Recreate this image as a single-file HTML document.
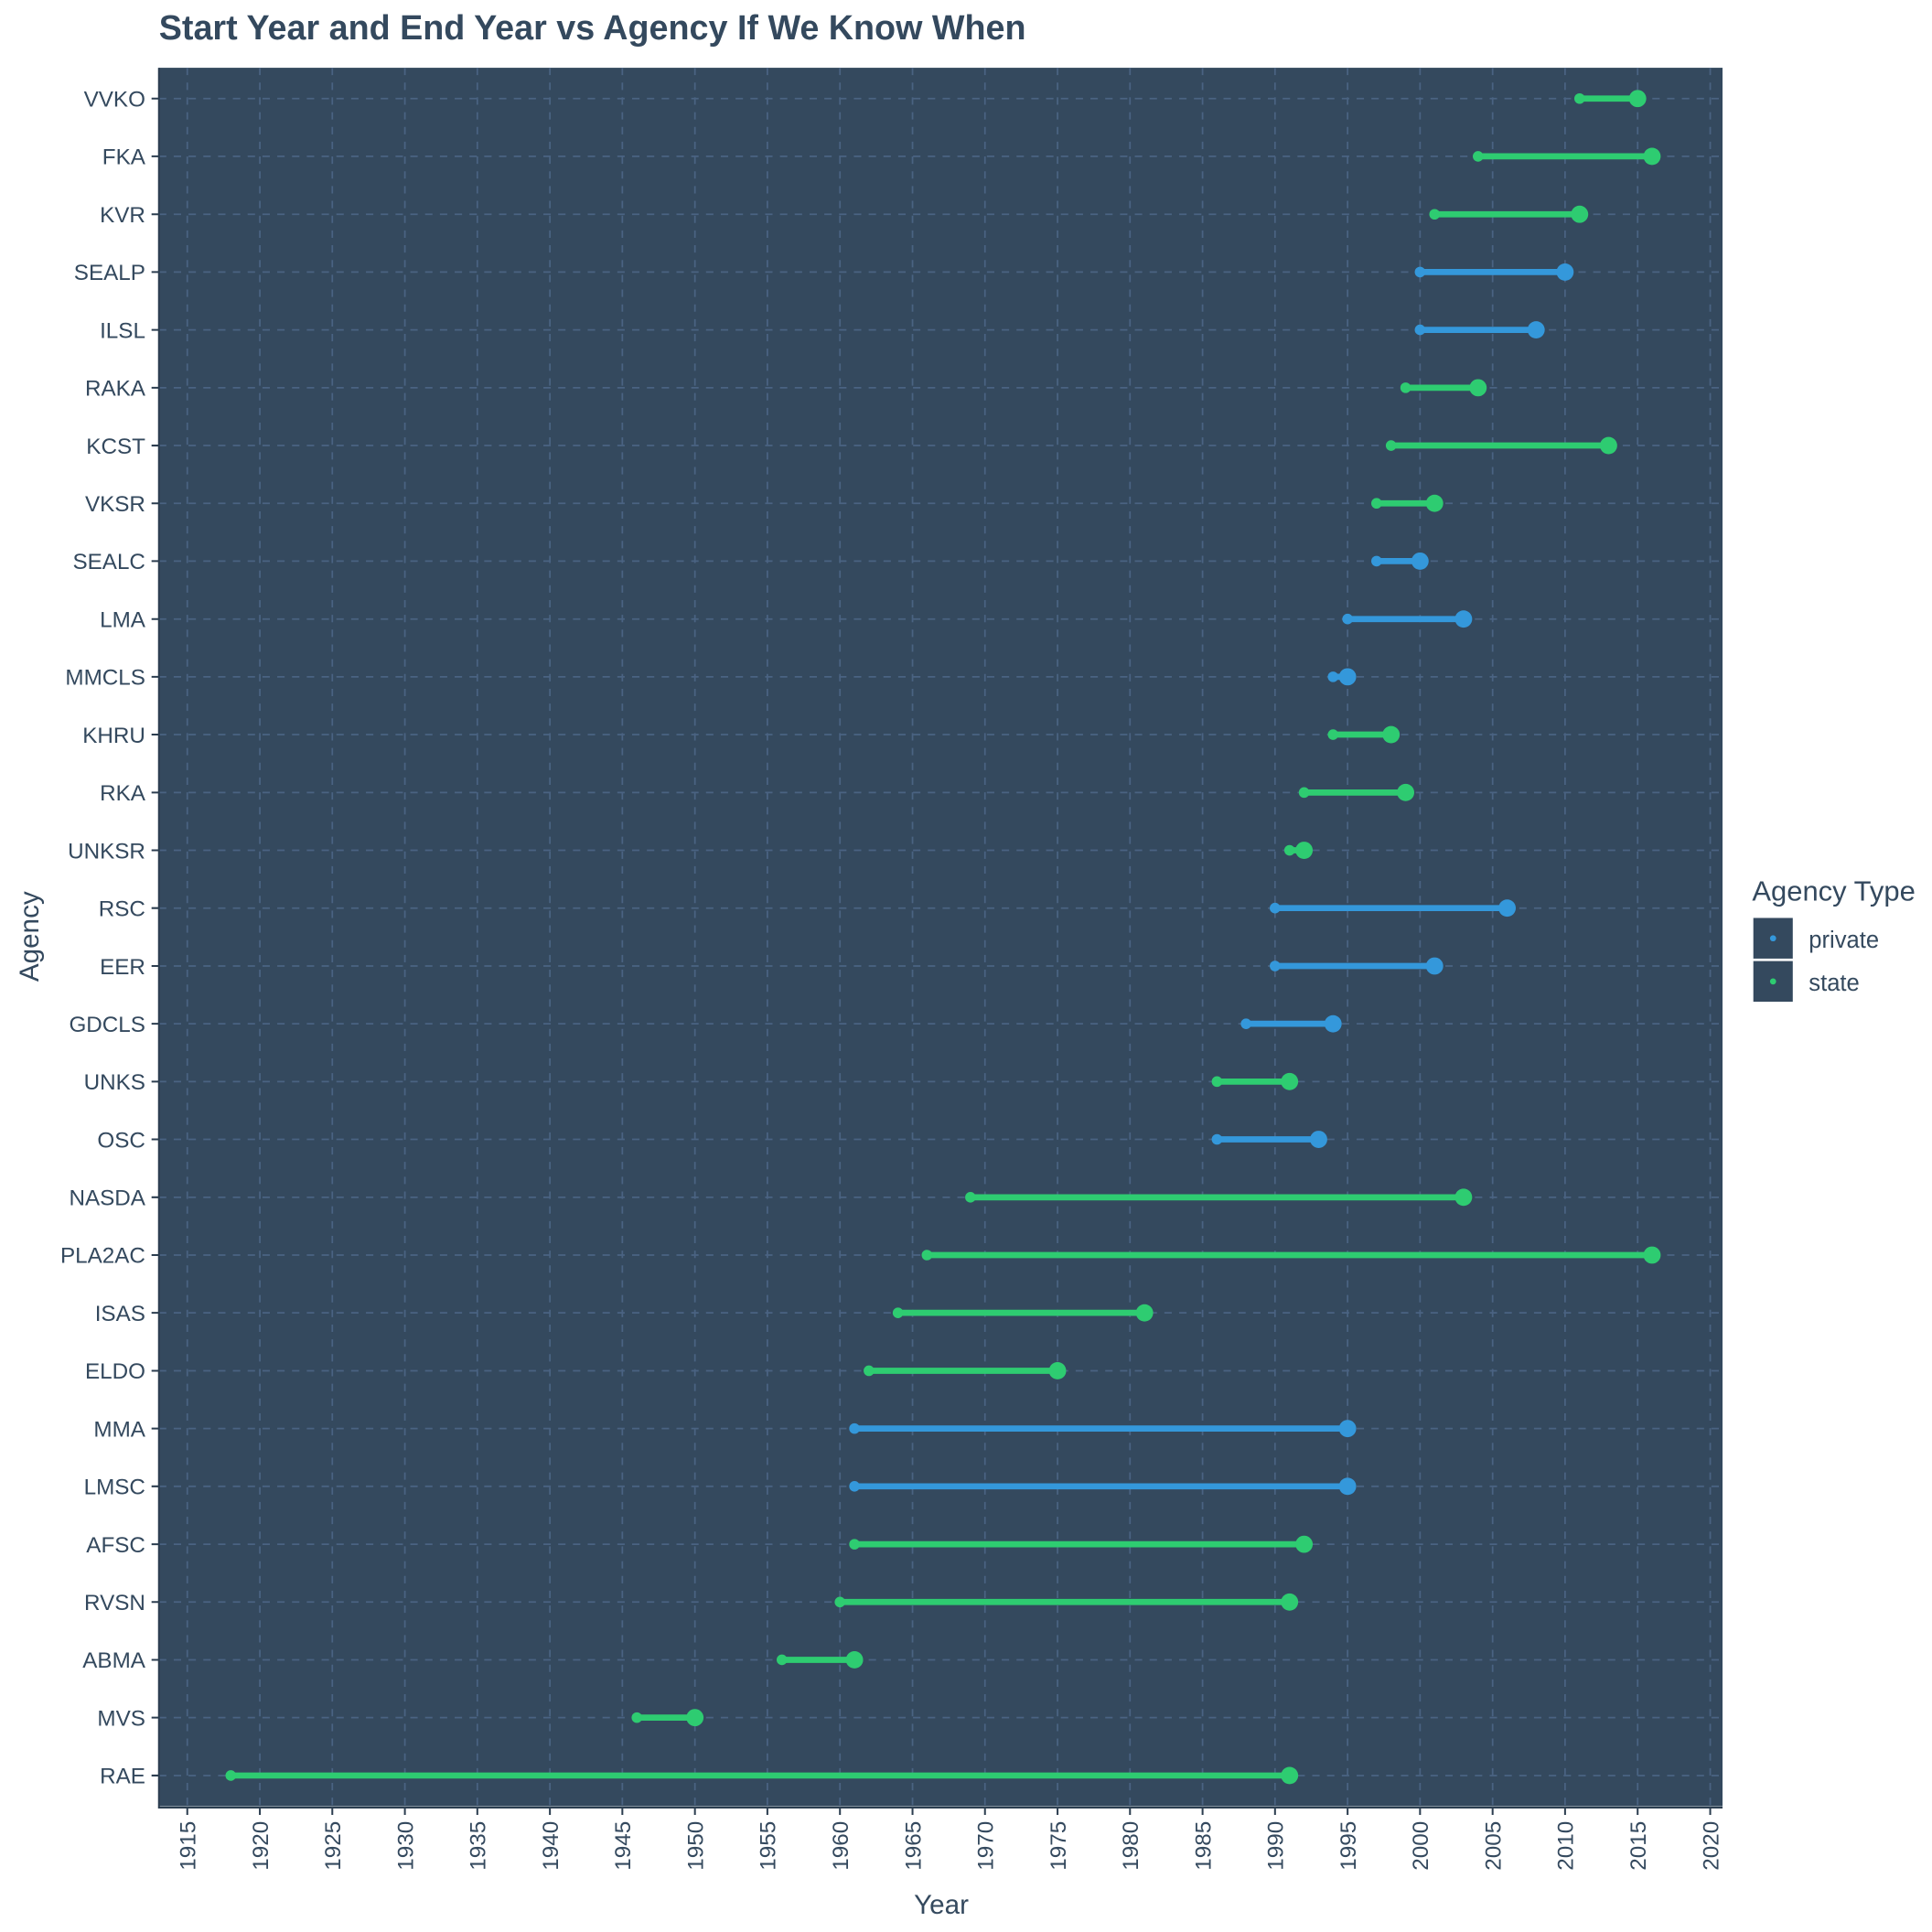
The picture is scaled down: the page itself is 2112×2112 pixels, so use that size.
<!DOCTYPE html>
<html><head><meta charset="utf-8"><style>html,body{margin:0;padding:0;background:#fff}svg{display:block}</style></head><body>
<svg width="2112" height="2112" viewBox="0 0 1568 1568" xmlns="http://www.w3.org/2000/svg" font-family="Liberation Sans, sans-serif">
<rect x="0" y="0" width="1568" height="1568" fill="#fff"/>
<text x="129" y="32" font-size="28" font-weight="bold" fill="#34495e">Start Year and End Year vs Agency If We Know When</text>
<rect x="129" y="55" width="1269" height="1411" fill="#34495e"/>
<g stroke="#4a6382" stroke-width="1.3" stroke-dasharray="6,6">
<path d="M152 55V1466M210.9 55V1466M269.7 55V1466M328.6 55V1466M387.4 55V1466M446.3 55V1466M505.1 55V1466M564 55V1466M622.8 55V1466M681.7 55V1466M740.6 55V1466M799.4 55V1466M858.3 55V1466M917.1 55V1466M976 55V1466M1034.8 55V1466M1093.7 55V1466M1152.5 55V1466M1211.4 55V1466M1270.2 55V1466M1329.1 55V1466M1388 55V1466"/>
<path d="M129 80H1398M129 126.9H1398M129 173.9H1398M129 220.8H1398M129 267.7H1398M129 314.7H1398M129 361.6H1398M129 408.5H1398M129 455.4H1398M129 502.4H1398M129 549.3H1398M129 596.2H1398M129 643.2H1398M129 690.1H1398M129 737H1398M129 784H1398M129 830.9H1398M129 877.8H1398M129 924.7H1398M129 971.7H1398M129 1018.6H1398M129 1065.5H1398M129 1112.5H1398M129 1159.4H1398M129 1206.3H1398M129 1253.3H1398M129 1300.2H1398M129 1347.1H1398M129 1394H1398M129 1441H1398"/>
</g>
<path d="M129 55V1467H1398" stroke="#2c3e50" stroke-width="1.5" fill="none"/>
<g stroke-width="5">
<g stroke="#2ecc71" fill="#2ecc71">
<line x1="1282" y1="80" x2="1329.1" y2="80"/><circle cx="1282" cy="80" r="4.3" stroke="none"/><circle cx="1329.1" cy="80" r="7" stroke="none"/>
<line x1="1199.6" y1="126.9" x2="1340.8" y2="126.9"/><circle cx="1199.6" cy="126.9" r="4.3" stroke="none"/><circle cx="1340.8" cy="126.9" r="7" stroke="none"/>
<line x1="1164.3" y1="173.9" x2="1282" y2="173.9"/><circle cx="1164.3" cy="173.9" r="4.3" stroke="none"/><circle cx="1282" cy="173.9" r="7" stroke="none"/>
<line x1="1140.8" y1="314.7" x2="1199.6" y2="314.7"/><circle cx="1140.8" cy="314.7" r="4.3" stroke="none"/><circle cx="1199.6" cy="314.7" r="7" stroke="none"/>
<line x1="1129" y1="361.6" x2="1305.5" y2="361.6"/><circle cx="1129" cy="361.6" r="4.3" stroke="none"/><circle cx="1305.5" cy="361.6" r="7" stroke="none"/>
<line x1="1117.2" y1="408.5" x2="1164.3" y2="408.5"/><circle cx="1117.2" cy="408.5" r="4.3" stroke="none"/><circle cx="1164.3" cy="408.5" r="7" stroke="none"/>
<line x1="1081.9" y1="596.2" x2="1129" y2="596.2"/><circle cx="1081.9" cy="596.2" r="4.3" stroke="none"/><circle cx="1129" cy="596.2" r="7" stroke="none"/>
<line x1="1058.4" y1="643.2" x2="1140.8" y2="643.2"/><circle cx="1058.4" cy="643.2" r="4.3" stroke="none"/><circle cx="1140.8" cy="643.2" r="7" stroke="none"/>
<line x1="1046.6" y1="690.1" x2="1058.4" y2="690.1"/><circle cx="1046.6" cy="690.1" r="4.3" stroke="none"/><circle cx="1058.4" cy="690.1" r="7" stroke="none"/>
<line x1="987.7" y1="877.8" x2="1046.6" y2="877.8"/><circle cx="987.7" cy="877.8" r="4.3" stroke="none"/><circle cx="1046.6" cy="877.8" r="7" stroke="none"/>
<line x1="787.6" y1="971.7" x2="1187.8" y2="971.7"/><circle cx="787.6" cy="971.7" r="4.3" stroke="none"/><circle cx="1187.8" cy="971.7" r="7" stroke="none"/>
<line x1="752.3" y1="1018.6" x2="1340.8" y2="1018.6"/><circle cx="752.3" cy="1018.6" r="4.3" stroke="none"/><circle cx="1340.8" cy="1018.6" r="7" stroke="none"/>
<line x1="728.8" y1="1065.5" x2="928.9" y2="1065.5"/><circle cx="728.8" cy="1065.5" r="4.3" stroke="none"/><circle cx="928.9" cy="1065.5" r="7" stroke="none"/>
<line x1="705.2" y1="1112.5" x2="858.3" y2="1112.5"/><circle cx="705.2" cy="1112.5" r="4.3" stroke="none"/><circle cx="858.3" cy="1112.5" r="7" stroke="none"/>
<line x1="693.5" y1="1253.3" x2="1058.4" y2="1253.3"/><circle cx="693.5" cy="1253.3" r="4.3" stroke="none"/><circle cx="1058.4" cy="1253.3" r="7" stroke="none"/>
<line x1="681.7" y1="1300.2" x2="1046.6" y2="1300.2"/><circle cx="681.7" cy="1300.2" r="4.3" stroke="none"/><circle cx="1046.6" cy="1300.2" r="7" stroke="none"/>
<line x1="634.6" y1="1347.1" x2="693.5" y2="1347.1"/><circle cx="634.6" cy="1347.1" r="4.3" stroke="none"/><circle cx="693.5" cy="1347.1" r="7" stroke="none"/>
<line x1="516.9" y1="1394" x2="564" y2="1394"/><circle cx="516.9" cy="1394" r="4.3" stroke="none"/><circle cx="564" cy="1394" r="7" stroke="none"/>
<line x1="187.3" y1="1441" x2="1046.6" y2="1441"/><circle cx="187.3" cy="1441" r="4.3" stroke="none"/><circle cx="1046.6" cy="1441" r="7" stroke="none"/>
</g>
<g stroke="#3498db" fill="#3498db">
<line x1="1152.5" y1="220.8" x2="1270.2" y2="220.8"/><circle cx="1152.5" cy="220.8" r="4.3" stroke="none"/><circle cx="1270.2" cy="220.8" r="7" stroke="none"/>
<line x1="1152.5" y1="267.7" x2="1246.7" y2="267.7"/><circle cx="1152.5" cy="267.7" r="4.3" stroke="none"/><circle cx="1246.7" cy="267.7" r="7" stroke="none"/>
<line x1="1117.2" y1="455.4" x2="1152.5" y2="455.4"/><circle cx="1117.2" cy="455.4" r="4.3" stroke="none"/><circle cx="1152.5" cy="455.4" r="7" stroke="none"/>
<line x1="1093.7" y1="502.4" x2="1187.8" y2="502.4"/><circle cx="1093.7" cy="502.4" r="4.3" stroke="none"/><circle cx="1187.8" cy="502.4" r="7" stroke="none"/>
<line x1="1081.9" y1="549.3" x2="1093.7" y2="549.3"/><circle cx="1081.9" cy="549.3" r="4.3" stroke="none"/><circle cx="1093.7" cy="549.3" r="7" stroke="none"/>
<line x1="1034.8" y1="737" x2="1223.2" y2="737"/><circle cx="1034.8" cy="737" r="4.3" stroke="none"/><circle cx="1223.2" cy="737" r="7" stroke="none"/>
<line x1="1034.8" y1="784" x2="1164.3" y2="784"/><circle cx="1034.8" cy="784" r="4.3" stroke="none"/><circle cx="1164.3" cy="784" r="7" stroke="none"/>
<line x1="1011.3" y1="830.9" x2="1081.9" y2="830.9"/><circle cx="1011.3" cy="830.9" r="4.3" stroke="none"/><circle cx="1081.9" cy="830.9" r="7" stroke="none"/>
<line x1="987.7" y1="924.7" x2="1070.2" y2="924.7"/><circle cx="987.7" cy="924.7" r="4.3" stroke="none"/><circle cx="1070.2" cy="924.7" r="7" stroke="none"/>
<line x1="693.5" y1="1159.4" x2="1093.7" y2="1159.4"/><circle cx="693.5" cy="1159.4" r="4.3" stroke="none"/><circle cx="1093.7" cy="1159.4" r="7" stroke="none"/>
<line x1="693.5" y1="1206.3" x2="1093.7" y2="1206.3"/><circle cx="693.5" cy="1206.3" r="4.3" stroke="none"/><circle cx="1093.7" cy="1206.3" r="7" stroke="none"/>
</g>
</g>
<g stroke="#2c3e50" stroke-width="1.5">
<path d="M123 80H129M123 126.9H129M123 173.9H129M123 220.8H129M123 267.7H129M123 314.7H129M123 361.6H129M123 408.5H129M123 455.4H129M123 502.4H129M123 549.3H129M123 596.2H129M123 643.2H129M123 690.1H129M123 737H129M123 784H129M123 830.9H129M123 877.8H129M123 924.7H129M123 971.7H129M123 1018.6H129M123 1065.5H129M123 1112.5H129M123 1159.4H129M123 1206.3H129M123 1253.3H129M123 1300.2H129M123 1347.1H129M123 1394H129M123 1441H129"/>
<path d="M152 1467V1473M210.9 1467V1473M269.7 1467V1473M328.6 1467V1473M387.4 1467V1473M446.3 1467V1473M505.1 1467V1473M564 1467V1473M622.8 1467V1473M681.7 1467V1473M740.6 1467V1473M799.4 1467V1473M858.3 1467V1473M917.1 1467V1473M976 1467V1473M1034.8 1467V1473M1093.7 1467V1473M1152.5 1467V1473M1211.4 1467V1473M1270.2 1467V1473M1329.1 1467V1473M1388 1467V1473"/>
</g>
<g font-size="18" fill="#34495e" text-anchor="end">
<text x="118" y="86.5">VVKO</text><text x="118" y="133.4">FKA</text><text x="118" y="180.4">KVR</text><text x="118" y="227.3">SEALP</text><text x="118" y="274.2">ILSL</text><text x="118" y="321.2">RAKA</text><text x="118" y="368.1">KCST</text><text x="118" y="415">VKSR</text><text x="118" y="461.9">SEALC</text><text x="118" y="508.9">LMA</text><text x="118" y="555.8">MMCLS</text><text x="118" y="602.7">KHRU</text><text x="118" y="649.7">RKA</text><text x="118" y="696.6">UNKSR</text><text x="118" y="743.5">RSC</text><text x="118" y="790.5">EER</text><text x="118" y="837.4">GDCLS</text><text x="118" y="884.3">UNKS</text><text x="118" y="931.2">OSC</text><text x="118" y="978.2">NASDA</text><text x="118" y="1025.1">PLA2AC</text><text x="118" y="1072">ISAS</text><text x="118" y="1119">ELDO</text><text x="118" y="1165.9">MMA</text><text x="118" y="1212.8">LMSC</text><text x="118" y="1259.8">AFSC</text><text x="118" y="1306.7">RVSN</text><text x="118" y="1353.6">ABMA</text><text x="118" y="1400.5">MVS</text><text x="118" y="1447.5">RAE</text>
</g>
<g font-size="18" fill="#34495e" text-anchor="end">
<text transform="translate(158.5,1478) rotate(-90)">1915</text><text transform="translate(217.4,1478) rotate(-90)">1920</text><text transform="translate(276.2,1478) rotate(-90)">1925</text><text transform="translate(335.1,1478) rotate(-90)">1930</text><text transform="translate(393.9,1478) rotate(-90)">1935</text><text transform="translate(452.8,1478) rotate(-90)">1940</text><text transform="translate(511.6,1478) rotate(-90)">1945</text><text transform="translate(570.5,1478) rotate(-90)">1950</text><text transform="translate(629.3,1478) rotate(-90)">1955</text><text transform="translate(688.2,1478) rotate(-90)">1960</text><text transform="translate(747.1,1478) rotate(-90)">1965</text><text transform="translate(805.9,1478) rotate(-90)">1970</text><text transform="translate(864.8,1478) rotate(-90)">1975</text><text transform="translate(923.6,1478) rotate(-90)">1980</text><text transform="translate(982.5,1478) rotate(-90)">1985</text><text transform="translate(1041.3,1478) rotate(-90)">1990</text><text transform="translate(1100.2,1478) rotate(-90)">1995</text><text transform="translate(1159,1478) rotate(-90)">2000</text><text transform="translate(1217.9,1478) rotate(-90)">2005</text><text transform="translate(1276.7,1478) rotate(-90)">2010</text><text transform="translate(1335.6,1478) rotate(-90)">2015</text><text transform="translate(1394.5,1478) rotate(-90)">2020</text>
</g>
<text x="764" y="1553" font-size="22" fill="#34495e" text-anchor="middle">Year</text>
<text transform="translate(31,760) rotate(-90)" font-size="22" fill="#34495e" text-anchor="middle">Agency</text>
<text x="1422" y="731" font-size="23" fill="#34495e">Agency Type</text>
<rect x="1423" y="745" width="32" height="33" fill="#34495e"/>
<rect x="1423" y="780" width="32" height="33" fill="#34495e"/>
<circle cx="1439" cy="761.5" r="2.5" fill="#3498db"/>
<circle cx="1439" cy="796.5" r="2.5" fill="#2ecc71"/>
<text x="1468" y="769" font-size="19" fill="#34495e">private</text>
<text x="1468" y="804" font-size="19" fill="#34495e">state</text>
</svg>
</body></html>
